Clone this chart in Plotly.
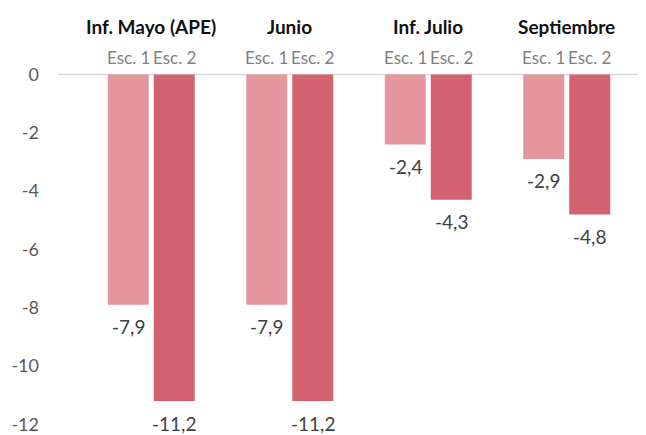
import plotly.graph_objects as go

categories = ["Inf. Mayo (APE)", "Junio", "Inf. Julio", "Septiembre"]
series_names = ["Esc. 1", "Esc. 2"]
esc1 = [-7.9, -7.9, -2.4, -2.9]
esc2 = [-11.2, -11.2, -4.3, -4.8]
y_ticks = [0, -2, -4, -6, -8, -10, -12]

colors = ["#E4959E", "#D4616F"]
FONT = "Lato"

fig = go.Figure()
xs = list(range(len(categories)))
for name, vals, col in zip(series_names, [esc1, esc2], colors):
    fig.add_trace(go.Bar(x=xs, y=vals, name=name, marker_color=col,
                         marker_line_width=0, showlegend=False))

bargap = 0.336
bargroupgap = 0.109
slot = (1 - bargap) / 2
offsets = [-slot / 2, slot / 2]

annotations = []
for i, cat in enumerate(categories):
    annotations.append(dict(x=i, y=1, xref="x", yref="paper", yshift=34,
                            text="<b>%s</b>" % cat, showarrow=False,
                            yanchor="middle",
                            font=dict(family=FONT, size=19, color="#111111")))
for s, (name, vals) in enumerate(zip(series_names, [esc1, esc2])):
    for i, v in enumerate(vals):
        xv = i + offsets[s]
        annotations.append(dict(x=xv, y=0, xref="x", yref="y", yshift=17,
                                text=name, showarrow=False, yanchor="middle",
                                font=dict(family=FONT, size=17, color="#7F7F7F")))
        annotations.append(dict(x=xv, y=v, xref="x", yref="y", yshift=-22,
                                text=("%.1f" % v).replace(".", ","),
                                showarrow=False, yanchor="middle",
                                font=dict(family=FONT, size=19, color="#404040")))

fig.update_layout(
    width=638, height=427,
    margin=dict(l=74, r=10, t=52, b=0),
    paper_bgcolor="white", plot_bgcolor="white",
    barmode="group", bargap=bargap, bargroupgap=bargroupgap,
    annotations=annotations,
    shapes=[dict(type="line", xref="paper", yref="y", x0=-0.0433, x1=1.02,
                 y0=0, y1=0, line=dict(color="#D9D9D9", width=1.5), layer="below")],
    xaxis=dict(range=[-0.5, 3.5], showticklabels=False, showgrid=False,
               zeroline=False, showline=False),
    yaxis=dict(range=[-12.26, 0.493], tickvals=y_ticks,
               ticktext=[str(t) for t in y_ticks], showgrid=False,
               zeroline=False, showline=False, ticklabelstandoff=42,
               ticklabeloverflow="allow",
               tickfont=dict(family=FONT, size=18, color="#595959")),
)

fig.write_html("out.html")
